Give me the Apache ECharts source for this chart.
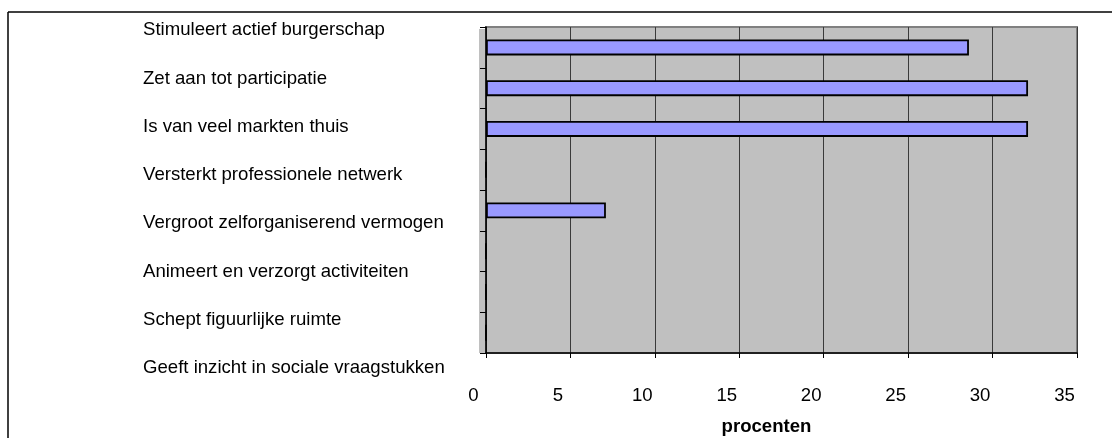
<!DOCTYPE html>
<html>
<head>
<meta charset="utf-8">
<script src="https://cdn.jsdelivr.net/npm/echarts@6/dist/echarts.min.js"></script>
<style>
html,body{margin:0;padding:0;background:#fff;}
#chart{width:1112px;height:438px;}
</style>
</head>
<body>
<div id="chart"></div>
<script>
const categories = [
  'Stimuleert actief burgerschap',
  'Zet aan tot participatie',
  'Is van veel markten thuis',
  'Versterkt professionele netwerk',
  'Vergroot zelforganiserend vermogen',
  'Animeert en verzorgt activiteiten',
  'Schept figuurlijke ruimte',
  'Geeft inzicht in sociale vraagstukken'
];
const values = [28.6, 32.1, 32.1, 0, 7.1, 0, 0, 0];
const xTicks = [0, 5, 10, 15, 20, 25, 30, 35];
const axisName = 'procenten';

const FONT = "'Liberation Sans', Arial, sans-serif";
const FS = 18.6;
const chart = echarts.init(document.getElementById('chart'), null, {renderer: 'canvas'});
chart.setOption({
  animation: false,
  backgroundColor: '#ffffff',
  graphic: [
    {type: 'line', shape: {x1: 8, y1: 12, x2: 1112, y2: 12}, style: {stroke: '#000', lineWidth: 1.5}, z: 100},
    {type: 'line', shape: {x1: 8, y1: 12, x2: 8, y2: 438}, style: {stroke: '#000', lineWidth: 1.5}, z: 100},
    {type: 'rect', shape: {x: 479, y: 29, width: 8, height: 324}, style: {fill: '#c0c0c0'}, z: -10}
  ],
  grid: [
    {left: 486, right: 35, top: 27, bottom: 85, show: true, backgroundColor: '#c0c0c0', borderColor: '#808080', borderWidth: 2, containLabel: false, outerBoundsMode: 'none'},
    {left: 470, width: 10, top: 6, bottom: 46, show: false, containLabel: false, outerBoundsMode: 'none'}
  ],
  xAxis: [
    {
      gridIndex: 0, type: 'value', min: xTicks[0], max: xTicks[xTicks.length - 1], interval: 5,
      axisLine: {show: true, lineStyle: {color: '#000', width: 1.5}},
      axisTick: {show: true, length: 5, lineStyle: {color: '#000'}},
      axisLabel: {color: '#000', fontFamily: FONT, fontSize: FS, margin: 33, padding: [0, 25, 0, 0]},
      splitLine: {show: true, lineStyle: {color: '#3a3a3a', width: 1}},
      name: axisName, nameLocation: 'middle', nameGap: 64,
      nameTextStyle: {color: '#000', fontFamily: FONT, fontSize: FS, fontWeight: 'bold', padding: [0, 30, 0, 0]}
    },
    {gridIndex: 1, type: 'value', show: false}
  ],
  yAxis: [
    {
      gridIndex: 0, type: 'category', data: categories, inverse: true,
      axisLine: {show: true, lineStyle: {color: '#000', width: 1.5}},
      axisTick: {show: true, length: 6, interval: 0, lineStyle: {color: '#000'}},
      axisLabel: {show: false},
      splitLine: {show: false}
    },
    {
      gridIndex: 1, type: 'category', data: categories, inverse: true,
      axisLine: {show: false}, axisTick: {show: false},
      axisLabel: {show: true, interval: 0, align: 'left', margin: 327, color: '#000', fontFamily: FONT, fontSize: FS}
    }
  ],
  series: [{
    type: 'bar', xAxisIndex: 0, yAxisIndex: 0, data: values,
    barWidth: 16,
    itemStyle: {color: '#9999ff', borderColor: '#000', borderWidth: 1.8}
  }]
});
</script>
</body>
</html>
